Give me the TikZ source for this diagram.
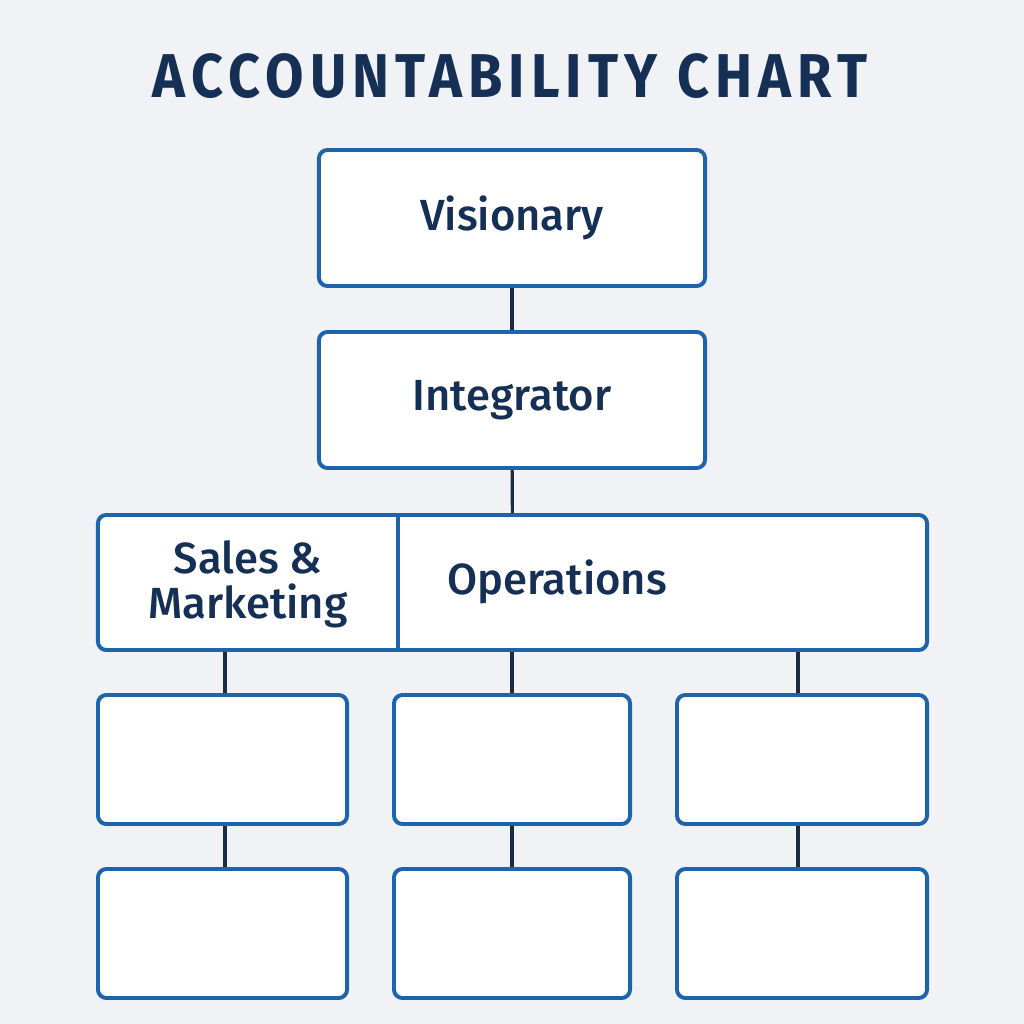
\documentclass[tikz,border=0pt]{standalone}
\usepackage{fontspec}
\setmainfont{Fira Sans}[UprightFont={* Medium}]
\newfontfamily\titlefont{Fira Sans}[UprightFont={* Bold}, FakeStretch=0.9, LetterSpace=10]
\usetikzlibrary{positioning}
\definecolor{pagebg}{HTML}{F0F2F6}
\definecolor{boxblue}{HTML}{1E64AA}
\definecolor{navy}{HTML}{152F55}
\definecolor{linknavy}{HTML}{1B2A45}
\tikzset{x=0.025cm, y=-0.025cm,
  role/.style={draw=boxblue, line width=2.8pt, fill=white, rounded corners=6pt,
    text=navy, font=\fontsize{31}{32}\selectfont, align=center, inner sep=0pt},
  seat/.style={role, minimum height=3.225cm},
  link/.style={draw=linknavy, line width=2.2pt}}

\begin{document}
\begin{tikzpicture}
  \fill[pagebg] (0,0) rectangle (1024,1024);
  \node (title) [text=navy, font=\titlefont\fontsize{44}{44}\selectfont] at (510,76) {ACCOUNTABILITY CHART};

  \node (vis) [role, minimum width=9.65cm, minimum height=3.4cm] at (512,218) {Visionary};
  \node (int) [role, minimum width=9.65cm, minimum height=3.4cm] at (512,400) {Integrator};
  \node (ops) [role, minimum width=20.725cm, minimum height=3.375cm] at (512.5,582.5) {};
  \node (sales) [text=navy, font=\fontsize{31}{32}\selectfont, align=center] at (248,584) {Sales \&\\Marketing};
  \node (opstext) [text=navy, font=\fontsize{31}{32}\selectfont] at (557,582) {Operations};
  \draw[draw=boxblue, line width=2.8pt] (ops.north -| 398,0) -- (ops.south -| 398,0);

  % seats, row by row
  \node (a1) [seat, minimum width=6.225cm] at (222.5,759.5) {};
  \node (b1) [seat, minimum width=5.9cm] at (512,759.5) {};
  \node (c1) [seat, minimum width=6.25cm] at (802,759.5) {};
  \node (a2) [seat, minimum width=6.225cm] at (222.5,933.5) {};
  \node (b2) [seat, minimum width=5.9cm] at (512,933.5) {};
  \node (c2) [seat, minimum width=6.25cm] at (802,933.5) {};

  \draw[link] (vis) -- (int);
  \draw[link] (int) -- (ops);
  \draw[link] (ops.south -| 225,0) -- (a1.north -| 225,0);
  \draw[link] (ops.south -| b1.north) -- (b1.north);
  \draw[link] (ops.south -| 798,0) -- (c1.north -| 798,0);
  \draw[link] (a1.south -| 225,0) -- (a2.north -| 225,0);
  \draw[link] (b1) -- (b2);
  \draw[link] (c1.south -| 798,0) -- (c2.north -| 798,0);
\end{tikzpicture}
\end{document}
